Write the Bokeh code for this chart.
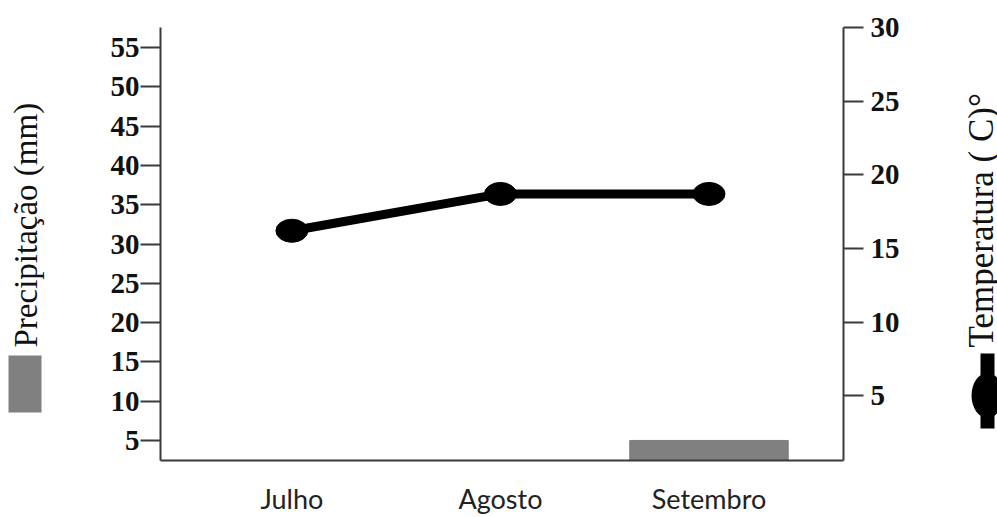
import math
from bokeh.plotting import figure
from bokeh.models import Range1d, LinearAxis, FixedTicker
from bokeh.layouts import row
from bokeh.core.properties import value
from bokeh.embed import file_html
from bokeh.resources import INLINE

# ---- data ----
months = ["Julho", "Agosto", "Setembro"]
precip_mm = [0, 0, 5]
temp_c = [16.2, 18.7, 18.7]
precip_ticks = [5, 10, 15, 20, 25, 30, 35, 40, 45, 50, 55]
temp_ticks = [5, 10, 15, 20, 25, 30]
precip_title = "Precipitação (mm)"
temp_title = "Temperatura ( C)°"

xs = list(range(1, len(months) + 1))

H = 517
TOP = 27
BOTTOM = 57
AX = "#3a3a3a"
SERIF = "Liberation Serif"


def side_fig(w):
    # frame has the same vertical borders as the main chart; ranges in pixels
    f = figure(width=w, height=H, output_backend="svg", toolbar_location=None,
               x_range=Range1d(0, w), y_range=Range1d(BOTTOM, H - TOP),
               x_axis_type=None, y_axis_type=None,
               min_border_left=0, min_border_right=0,
               min_border_top=TOP, min_border_bottom=BOTTOM)
    f.outline_line_color = None
    f.background_fill_color = "white"
    f.border_fill_color = "white"
    return f


# ---- main chart ----
p = figure(width=890, height=H, output_backend="svg", toolbar_location=None,
           x_range=Range1d(0.37, 3.645), y_range=Range1d(2.45, 57.55),
           min_border_left=100, min_border_right=107, min_border_top=TOP,
           min_border_bottom=BOTTOM)
p.outline_line_color = None
p.grid.visible = False
p.background_fill_color = "white"
p.border_fill_color = "white"
p.extra_y_ranges = {"temp": Range1d(0.6, 30.0)}

xa = p.xaxis[0]
xa.ticker = FixedTicker(ticks=xs)
xa.major_label_overrides = {x: m for x, m in zip(xs, months)}
xa.major_tick_out = 0
xa.major_tick_in = 0
xa.minor_tick_out = 0
xa.minor_tick_in = 0
xa.axis_line_color = AX
xa.axis_line_width = 2
xa.major_label_standoff = 21
xa.major_label_text_font = "Lato"
xa.major_label_text_font_size = "27px"
xa.major_label_text_color = "#222222"


def style_y(a, standoff):
    a.major_tick_out = 20
    a.major_tick_in = 0
    a.minor_tick_out = 0
    a.minor_tick_in = 0
    a.major_tick_line_width = 2
    a.major_tick_line_color = AX
    a.axis_line_color = AX
    a.axis_line_width = 2
    a.major_label_standoff = standoff
    a.major_label_text_font = SERIF
    a.major_label_text_font_style = "bold"
    a.major_label_text_font_size = "29px"
    a.major_label_text_color = "#111111"


ya = p.yaxis[0]
ya.ticker = FixedTicker(ticks=precip_ticks)
style_y(ya, 1)

ra = LinearAxis(y_range_name="temp", ticker=FixedTicker(ticks=temp_ticks))
style_y(ra, 7)
p.add_layout(ra, "right")

p.vbar(x=xs, top=precip_mm, bottom=0, width=0.76, fill_color="#808080",
       line_color="#808080")
p.line(xs, temp_c, y_range_name="temp", line_width=9, line_color="black")
p.ellipse(xs, temp_c, width=32, height=23, width_units="screen",
          height_units="screen", fill_color="black", line_color="black",
          y_range_name="temp")

# ---- left side: rotated title + legend key ----
lf = side_fig(60)
lf.text(x=[25], y=[H - 347], text=[precip_title], angle=math.pi / 2,
        text_align="left", text_baseline="alphabetic",
        text_font=value(SERIF), text_font_size="33px", text_color="#111111")
lf.quad(left=[8], right=[41], bottom=[H - 412], top=[H - 355],
        fill_color="#808080", line_color=None)

# ---- right side: rotated title + legend key ----
rf = side_fig(47)
rf.text(x=[31], y=[H - 347], text=[temp_title], angle=math.pi / 2,
        text_align="left", text_baseline="alphabetic",
        text_font=value(SERIF), text_font_size="35px", text_color="#111111")
rf.quad(left=[30], right=[44], bottom=[H - 428], top=[H - 353],
        fill_color="black", line_color=None)
rf.ellipse(x=[37], y=[H - 395], width=32, height=45,
           fill_color="black", line_color=None)

layout = row(lf, p, rf)
open("out.html", "w").write(file_html(layout, INLINE))
